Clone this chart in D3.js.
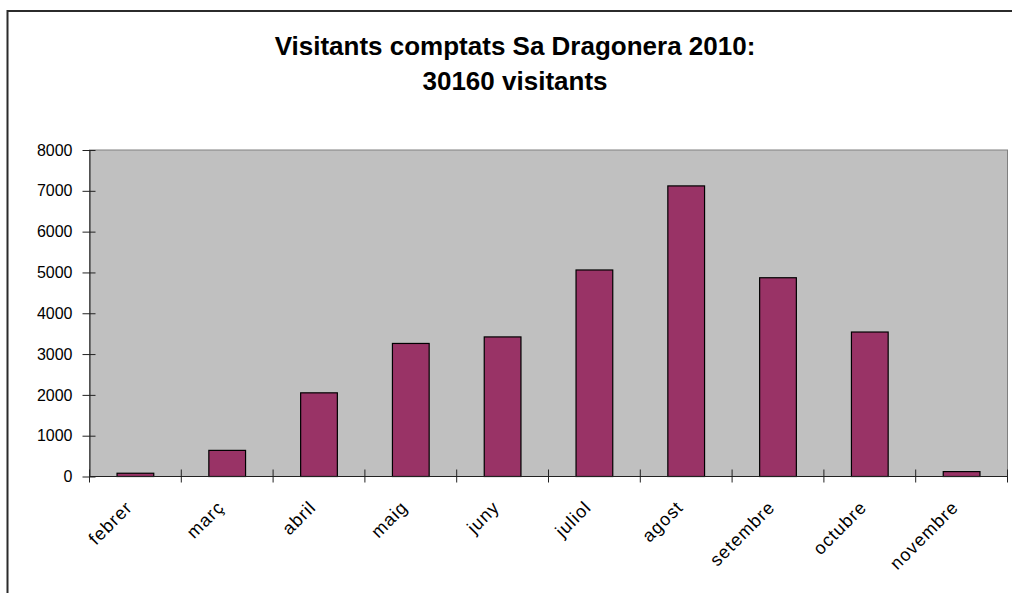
<!DOCTYPE html>
<html>
<head>
<meta charset="utf-8">
<script src="https://cdn.jsdelivr.net/npm/d3@7"></script>
<style>
  body { margin: 0; background: #fff; }
  svg { display: block; font-family: "Liberation Sans", Arial, sans-serif; }
</style>
</head>
<body>
<svg id="chart" width="1012" height="593"></svg>
<script>
// Visitor counts per month
var months = ["febrer", "març", "abril", "maig", "juny", "juliol", "agost", "setembre", "octubre", "novembre"];
var visitors = [80, 640, 2050, 3260, 3420, 5060, 7120, 4870, 3540, 120];
var yTicks = [0, 1000, 2000, 3000, 4000, 5000, 6000, 7000, 8000];
var titleLines = ["Visitants comptats Sa Dragonera 2010:", "30160 visitants"];

var data = months.map(function(m, i) { return { month: m, value: visitors[i] }; });

var svg = d3.select("#chart");
var plot = { left: 89.5, right: 1007.5, top: 150, bottom: 476.5 };

// chart frame (only top and left are inside the picture)
svg.append("rect")
    .attr("x", 7.5).attr("y", 11)
    .attr("width", 1100).attr("height", 700)
    .attr("fill", "none").attr("stroke", "#2b2b2b").attr("stroke-width", 2);

// title
svg.selectAll(".title").data(titleLines).enter().append("text")
    .attr("class", "title")
    .attr("x", 515)
    .attr("y", function(d, i) { return 55 + i * 35; })
    .attr("text-anchor", "middle")
    .attr("font-size", 26).attr("font-weight", "bold")
    .attr("fill", "#000")
    .text(function(d) { return d; });

// scales
var x = d3.scaleBand()
    .domain(months)
    .range([plot.left, plot.right])
    .paddingInner(0.6).paddingOuter(0.3);

var xEdge = d3.scaleLinear().domain([0, months.length]).range([plot.left, plot.right]);

var y = d3.scaleLinear().domain([0, 8000]).range([plot.bottom, plot.top]);

// plot area
svg.append("rect")
    .attr("x", plot.left).attr("y", plot.top)
    .attr("width", plot.right - plot.left).attr("height", plot.bottom - plot.top)
    .attr("fill", "#c0c0c0").attr("stroke", "#808080").attr("stroke-width", 1);

// bars
svg.selectAll(".bar").data(data).enter().append("rect")
    .attr("class", "bar")
    .attr("x", function(d) { return x(d.month); })
    .attr("y", function(d) { return y(d.value); })
    .attr("width", x.bandwidth())
    .attr("height", function(d) { return y(0) - y(d.value); })
    .attr("fill", "#993366")
    .attr("stroke", "#000").attr("stroke-width", 1.2);

// y axis
var yAxis = svg.append("g")
    .attr("transform", "translate(" + plot.left + ",0)")
    .call(d3.axisLeft(y).tickValues(yTicks).tickFormat(d3.format("d"))
        .tickSize(7).tickPadding(10).tickSizeOuter(0));
yAxis.selectAll(".tick line").attr("x2", -7).attr("x1", 6);
yAxis.select(".domain").attr("stroke", "#222");
yAxis.selectAll(".tick line").attr("stroke", "#222");
yAxis.selectAll("text").attr("font-size", 16).attr("fill", "#000")
    .attr("font-family", "Liberation Sans, Arial, sans-serif");

// x axis line and boundary ticks
var xg = svg.append("g");
xg.append("line")
    .attr("x1", plot.left).attr("x2", plot.right)
    .attr("y1", y(0)).attr("y2", y(0))
    .attr("stroke", "#222");
xg.selectAll(".xtick").data(d3.range(months.length + 1)).enter().append("line")
    .attr("class", "xtick")
    .attr("x1", function(i) { return xEdge(i); }).attr("x2", function(i) { return xEdge(i); })
    .attr("y1", y(0) - 7).attr("y2", y(0) + 6)
    .attr("stroke", "#222");

// rotated month labels
xg.selectAll(".xlabel").data(months).enter().append("text")
    .attr("class", "xlabel")
    .attr("transform", function(m) {
        return "translate(" + (x(m) + x.bandwidth() / 2 - 2) + "," + (y(0) + 32) + ") rotate(-45)";
    })
    .attr("text-anchor", "end")
    .attr("font-size", 18).attr("letter-spacing", 1)
    .attr("fill", "#000")
    .text(function(m) { return m; });
</script>
</body>
</html>
